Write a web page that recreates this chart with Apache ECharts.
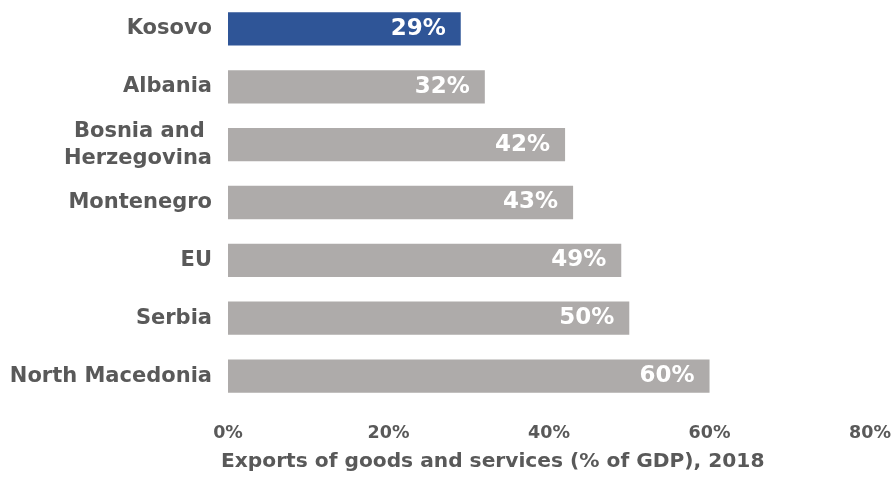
<!DOCTYPE html>
<html>
<head>
<meta charset="utf-8">
<script src="https://cdn.jsdelivr.net/npm/echarts@6/dist/echarts.min.js"></script>
<style>
  html, body { margin: 0; padding: 0; background: #ffffff; }
  #chart { width: 894px; height: 478px; }
</style>
</head>
<body>
<div id="chart"></div>
<script>
// Exports of goods and services as a share of GDP, 2018
const countries = ['Kosovo', 'Albania', 'Bosnia and \nHerzegovina', 'Montenegro', 'EU', 'Serbia', 'North Macedonia'];
const exportShare = [29, 32, 42, 43, 49, 50, 60];
const highlighted = 'Kosovo';
const xTicks = { min: 0, max: 80, step: 20 };
const axisTitle = 'Exports of goods and services (% of GDP), 2018';

const BLUE = '#2F5597';
const GREY = '#AEABAA';
const TEXT = '#595959';
const FONT = '"DejaVu Sans", "Liberation Sans", Arial, sans-serif';

const chart = echarts.init(document.getElementById('chart'), null, { renderer: 'canvas' });

chart.setOption({
  animation: false,
  textStyle: { fontFamily: FONT },
  title: {
    text: axisTitle,
    left: 221,
    top: 452,
    padding: 0,
    textStyle: { fontSize: 20.2, fontWeight: 'bold', color: TEXT, fontFamily: FONT }
  },
  grid: { left: 228, right: 22, top: -2, height: 407, containLabel: false },
  xAxis: {
    type: 'value',
    min: xTicks.min,
    max: xTicks.max,
    interval: xTicks.step,
    axisLine: { show: false },
    axisTick: { show: false },
    splitLine: { show: false },
    axisLabel: {
      formatter: '{value}%',
      fontSize: 17.5,
      fontWeight: 'bold',
      color: TEXT,
      fontFamily: FONT,
      margin: 19.5
    }
  },
  yAxis: {
    type: 'category',
    data: countries,
    inverse: true,
    axisLine: { show: false },
    axisTick: { show: false },
    splitLine: { show: false },
    axisLabel: {
      fontSize: 21,
      fontWeight: 'bold',
      color: TEXT,
      fontFamily: FONT,
      lineHeight: 27,
      margin: 16
    }
  },
  series: [{
    type: 'bar',
    barWidth: '57.5%',
    data: exportShare.map((v, i) => ({
      value: v,
      itemStyle: { color: countries[i] === highlighted ? BLUE : GREY }
    })),
    label: {
      show: true,
      position: 'insideRight',
      distance: 15,
      formatter: '{c}%',
      color: '#ffffff',
      fontSize: 23,
      fontWeight: 'bold',
      fontFamily: FONT
    }
  }]
});
</script>
</body>
</html>
